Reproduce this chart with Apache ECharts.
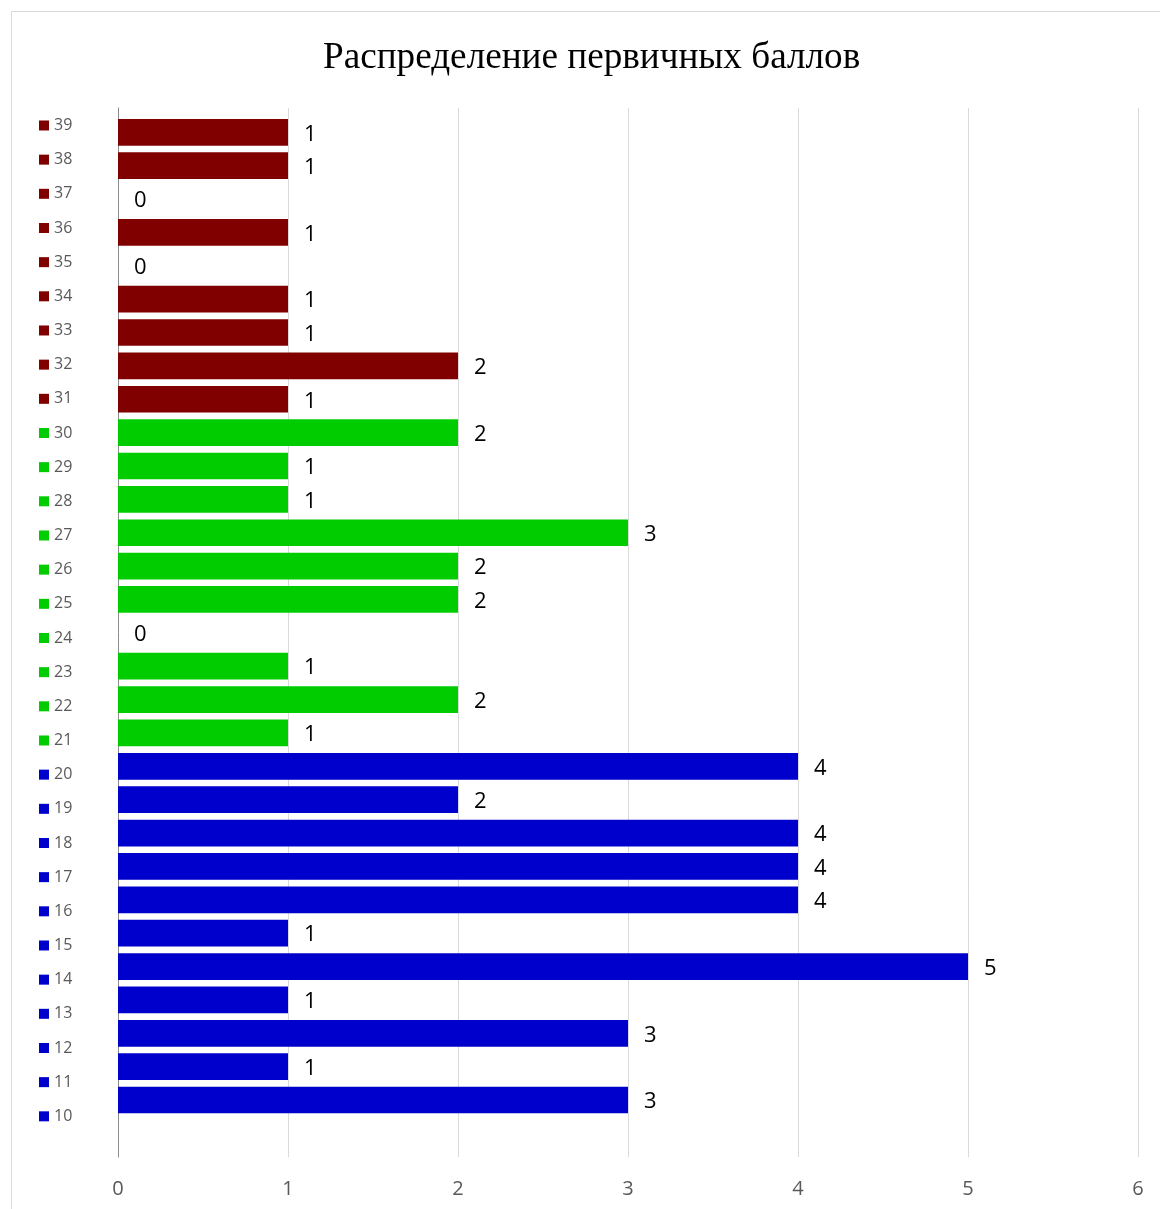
<!DOCTYPE html>
<html>
<head>
<meta charset="utf-8">
<script src="https://cdn.jsdelivr.net/npm/echarts@6/dist/echarts.min.js"></script>
<style>
html,body{margin:0;padding:0;background:#fff;}
#chart{width:1160px;height:1209px;}
</style>
</head>
<body>
<div id="chart"></div>
<script>
var titleText = 'Распределение первичных баллов';
var categories = ['10','11','12','13','14','15','16','17','18','19','20','21','22','23','24','25','26','27','28','29','30','31','32','33','34','35','36','37','38','39'];
var values = [3,1,3,1,5,1,4,4,4,2,4,1,2,1,0,2,2,3,1,1,2,1,2,1,1,0,1,0,1,1];
var xTicks = [0,1,2,3,4,5,6];
var groupColors = {blue:'#0000CC', green:'#00CC00', red:'#800000'};

function groupOf(cat){
  var n = parseInt(cat,10);
  if (n <= 20) return 'blue';
  if (n <= 30) return 'green';
  return 'red';
}

var barData = values.map(function(v,i){
  return {value:v, itemStyle:{color:groupColors[groupOf(categories[i])]}};
});

var chart = echarts.init(document.getElementById('chart'), null, {renderer:'canvas'});
chart.setOption({
  animation:false,
  backgroundColor:'#ffffff',
  graphic:[{
    type:'rect', z:-10, silent:true,
    shape:{x:11.5,y:11.5,width:1200,height:1260},
    style:{fill:'none',stroke:'#d9d9d9',lineWidth:1}
  }],
  title:{
    text:titleText, left:318, top:35,
    textStyle:{fontFamily:'Liberation Serif', fontSize:37.2, fontWeight:'normal', color:'#000'}
  },
  grid:[
    {left:118, right:22, top:115.6, bottom:92.3},
    {left:118, right:22, top:108, bottom:52},
    {left:39, width:1, top:108.4, bottom:75.6}
  ],
  xAxis:[
    {gridIndex:0, type:'value', min:0, max:6, show:false},
    {gridIndex:1, type:'value', min:0, max:6, interval:1,
      axisLine:{show:false}, axisTick:{show:false},
      splitLine:{show:true, lineStyle:{color:'#d9d9d9', width:1}},
      axisLabel:{color:'#595959', fontSize:20, fontFamily:'Open Sans', margin:22,
        formatter:function(v){ return xTicks.indexOf(v) >= 0 ? String(v) : ''; }}
    },
    {gridIndex:2, type:'value', min:0, max:1, show:false}
  ],
  yAxis:[
    {gridIndex:0, type:'category', data:categories, show:false, boundaryGap:true},
    {gridIndex:1, type:'value', min:0, max:1,
      axisLine:{show:true, lineStyle:{color:'#8c8c8c', width:1}},
      axisTick:{show:false}, axisLabel:{show:false}, splitLine:{show:false}},
    {gridIndex:2, type:'category', data:categories, boundaryGap:true,
      axisLine:{show:false}, axisTick:{show:false}, splitLine:{show:false},
      axisLabel:{
        show:true, align:'left', margin:0, interval:0,
        formatter:function(v){ return '{' + groupOf(v) + '|}{t|' + v + '}'; },
        rich:{
          blue:{width:10,height:10,backgroundColor:groupColors.blue},
          green:{width:10,height:10,backgroundColor:groupColors.green},
          red:{width:10,height:10,backgroundColor:groupColors.red},
          t:{color:'#595959', fontSize:16, fontFamily:'Open Sans', padding:[0,0,0,5]}
        }
      }
    }
  ],
  series:[{
    type:'bar', xAxisIndex:0, yAxisIndex:0,
    data:barData, barWidth:26.7,
    label:{show:true, position:'right', distance:16, offset:[0,2], color:'#000',
      fontSize:22, fontFamily:'Open Sans'}
  }]
});
</script>
</body>
</html>
